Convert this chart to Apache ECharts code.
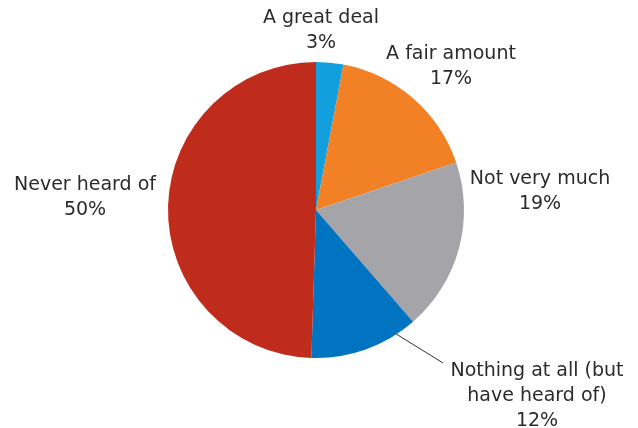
<!DOCTYPE html>
<html><head><meta charset="utf-8">
<script src="https://cdn.jsdelivr.net/npm/echarts@6/dist/echarts.min.js"></script>
<style>html,body{margin:0;padding:0;background:#fff}#c{width:638px;height:428px}</style>
</head><body><div id="c"></div>
<script>
const categories = ['A great deal', 'A fair amount', 'Not very much', 'Nothing at all (but\nhave heard of)', 'Never heard of'];
const values = [3, 17, 19, 12, 50];
const colors = ['#129FDD', '#F28126', '#A5A5A9', '#0073C1', '#BF2C1B'];

const CX = 316, CY = 210, R = 148;
// label block centres relative to pie centre (layout only)
const labelOffsets = [[5, -179], [135, -143], [224, -18], [221, 186], [-231, -12]];

const chart = echarts.init(document.getElementById('c'), null, {renderer: 'canvas'});
chart.setOption({
  backgroundColor: '#fff',
  animation: false,
  series: [{
    type: 'pie',
    center: [CX, CY],
    radius: [0, R],
    startAngle: 90,
    clockwise: true,
    avoidLabelOverlap: false,
    itemStyle: {borderWidth: 0},
    label: {
      show: true,
      position: 'outside',
      formatter: '{b}\n{c}%',
      fontFamily: '"DejaVu Sans", sans-serif',
      fontSize: 19,
      lineHeight: 25,
      color: '#2b2b2b',
      align: 'center'
    },
    labelLine: {show: false, lineStyle: {color: '#333', width: 1}},
    labelLayout: function (p) {
      const o = labelOffsets[p.dataIndex];
      const res = {x: CX + o[0], y: CY + o[1], align: 'center', verticalAlign: 'middle'};
      if (p.dataIndex === 3) {
        res.labelLinePoints = [[CX + 77, CY + 122], [CX + 127, CY + 153], [CX + 127, CY + 153]];
      }
      return res;
    },
    data: categories.map((n, i) => ({
      name: n, value: values[i],
      itemStyle: {color: colors[i]},
      labelLine: {show: i === 3}
    }))
  }]
});
</script></body></html>
